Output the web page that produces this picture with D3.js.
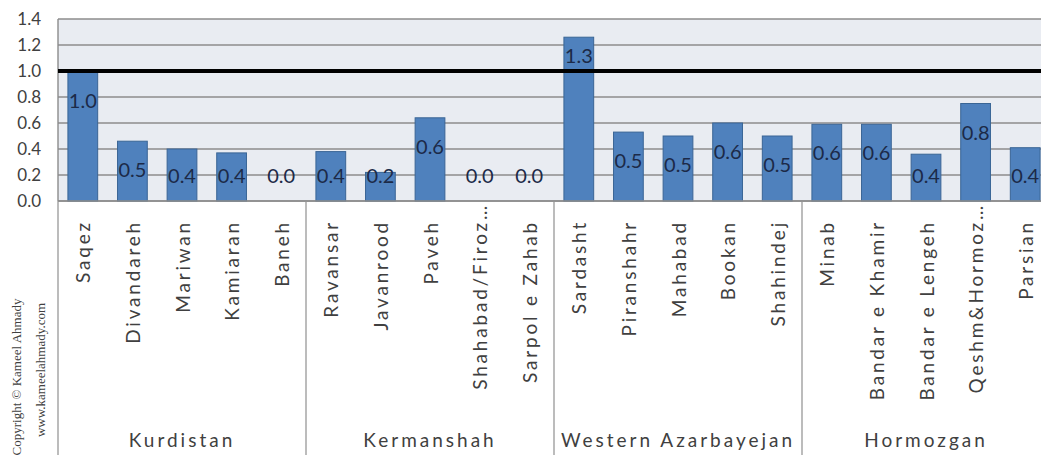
<!DOCTYPE html>
<html>
<head>
<meta charset="utf-8">
<script src="https://cdn.jsdelivr.net/npm/d3@7"></script>
<style>
  body { margin: 0; background: #ffffff; }
  svg { display: block; font-family: Lato, "Open Sans", sans-serif; }
  .cat { fill: #404040; font-size: 19px; letter-spacing: 2.8px; }
  .group { fill: #404040; font-size: 19px; letter-spacing: 3px; }
  .tick-label { fill: #404040; font-size: 17px; }
  .value { fill: #1c2a48; font-size: 20px; }
  .copy { fill: #404040; font-family: "Liberation Serif", "DejaVu Serif", serif; font-size: 13px; }
</style>
</head>
<body>
<svg id="chart"></svg>
<script>
// Chart data
const cities = ["Saqez", "Divandareh", "Mariwan", "Kamiaran", "Baneh",
  "Ravansar", "Javanrood", "Paveh", "Shahabad/Firoz…", "Sarpol e Zahab",
  "Sardasht", "Piranshahr", "Mahabad", "Bookan", "Shahindej",
  "Minab", "Bandar e Khamir", "Bandar e Lengeh", "Qeshm&Hormoz…", "Parsian"]
const values = [0.99, 0.46, 0.40, 0.37, 0.0,
  0.38, 0.22, 0.64, 0.0, 0.0,
  1.26, 0.53, 0.50, 0.60, 0.50,
  0.59, 0.59, 0.36, 0.75, 0.41]
const regions = ["Kurdistan", "Kermanshah", "Western Azarbayejan", "Hormozgan"]
const regionSizes = [5, 5, 5, 5]
const yTicks = [0, 0.2, 0.4, 0.6, 0.8, 1.0, 1.2, 1.4]
const threshold = 1.0

let width = 1041, height = 455
let margin = { left: 58, top: 19, bottom: 254 }
let plotRight = 1050 // plot runs a little past the picture edge

let rows = cities.map((c, i) => ({ city: c, value: values[i] }))

let svg = d3.select('#chart')
  .attr('width', width)
  .attr('height', height)

// Scales
let x = d3.scaleBand()
  .domain(cities)
  .range([margin.left, plotRight])
  .paddingInner(0.4)
  .paddingOuter(0.2)

let y = d3.scaleLinear()
  .domain([0, 1.4])
  .range([height - margin.bottom, margin.top])

// Plot background
svg.append('rect')
  .attr('x', margin.left)
  .attr('y', y(1.4))
  .attr('width', plotRight - margin.left)
  .attr('height', y(0) - y(1.4))
  .attr('fill', '#e9ecf2')

// Gridlines
svg.append('g')
  .selectAll('line')
  .data(yTicks)
  .enter()
  .append('line')
  .attr('x1', margin.left)
  .attr('x2', plotRight)
  .attr('y1', d => y(d))
  .attr('y2', d => y(d))
  .attr('stroke', '#8c8c8c')
  .attr('stroke-width', 1.4)

// Left axis line
svg.append('line')
  .attr('x1', margin.left).attr('x2', margin.left)
  .attr('y1', y(1.4)).attr('y2', y(0))
  .attr('stroke', '#8c8c8c')
  .attr('stroke-width', 1.4)

// Y tick labels
svg.append('g')
  .selectAll('text')
  .data(yTicks)
  .enter()
  .append('text')
  .attr('class', 'tick-label')
  .attr('x', 41)
  .attr('y', d => y(d))
  .attr('dy', '0.36em')
  .attr('text-anchor', 'end')
  .text(d => d.toFixed(1))

// Bars (zero values draw nothing)
svg.append('g')
  .selectAll('rect')
  .data(rows.filter(d => d.value > 0))
  .enter()
  .append('rect')
  .attr('x', d => x(d.city))
  .attr('y', d => y(d.value))
  .attr('width', x.bandwidth())
  .attr('height', d => y(0) - y(d.value))
  .attr('fill', '#4f81bd')
  .attr('stroke', '#3a6595')
  .attr('stroke-width', 1)

// Threshold line
svg.append('line')
  .attr('x1', margin.left)
  .attr('x2', plotRight)
  .attr('y1', y(threshold))
  .attr('y2', y(threshold))
  .attr('stroke', '#000000')
  .attr('stroke-width', 4)

// Value labels, just inside the bar top, kept off the threshold line
function labelBaseline(v) {
  let b = Math.min(y(v) + 36, y(0) - 18)
  if (b > y(threshold) - 2 && b - 15 < y(threshold) + 2) b = y(threshold) - 8
  return b
}
svg.append('g')
  .selectAll('text')
  .data(rows)
  .enter()
  .append('text')
  .attr('class', 'value')
  .attr('x', d => x(d.city) + x.bandwidth() / 2)
  .attr('y', d => labelBaseline(d.value))
  .attr('text-anchor', 'middle')
  .text(d => d.value.toFixed(1))

// Category labels (rotated)
svg.append('g')
  .selectAll('text')
  .data(cities)
  .enter()
  .append('text')
  .attr('class', 'cat')
  .attr('transform', d => {
    let top = d.endsWith('…') ? y(0) + 2 : y(0) + 19
    return `translate(${x(d) + x.bandwidth() / 2},${top}) rotate(-90)`
  })
  .attr('dy', '0.4em')
  .attr('text-anchor', 'end')
  .text(d => d)

// Region separators and labels
let step = x.step()
let starts = regionSizes.map((n, i) => d3.sum(regionSizes.slice(0, i)))
let bounds = starts.concat([cities.length])

svg.append('g')
  .selectAll('line')
  .data(bounds)
  .enter()
  .append('line')
  .attr('x1', d => margin.left + d * step)
  .attr('x2', d => margin.left + d * step)
  .attr('y1', y(0))
  .attr('y2', height)
  .attr('stroke', '#a6a6a6')
  .attr('stroke-width', 1.5)

svg.append('g')
  .selectAll('text')
  .data(regions)
  .enter()
  .append('text')
  .attr('class', 'group')
  .attr('x', (d, i) => margin.left + (starts[i] + regionSizes[i] / 2) * step)
  .attr('y', 447)
  .attr('text-anchor', 'middle')
  .text(d => d)

// Bottom axis line
svg.append('line')
  .attr('x1', margin.left).attr('x2', plotRight)
  .attr('y1', y(0)).attr('y2', y(0))
  .attr('stroke', '#8c8c8c')
  .attr('stroke-width', 1.4)

// Copyright note
svg.append('text')
  .attr('class', 'copy')
  .attr('transform', 'translate(21,377) rotate(-90)')
  .attr('text-anchor', 'middle')
  .text('Copyright © Kameel Ahmady')

svg.append('text')
  .attr('class', 'copy')
  .attr('transform', 'translate(45,370) rotate(-90)')
  .attr('text-anchor', 'middle')
  .text('www.kameelahmady.com')
</script>
</body>
</html>
